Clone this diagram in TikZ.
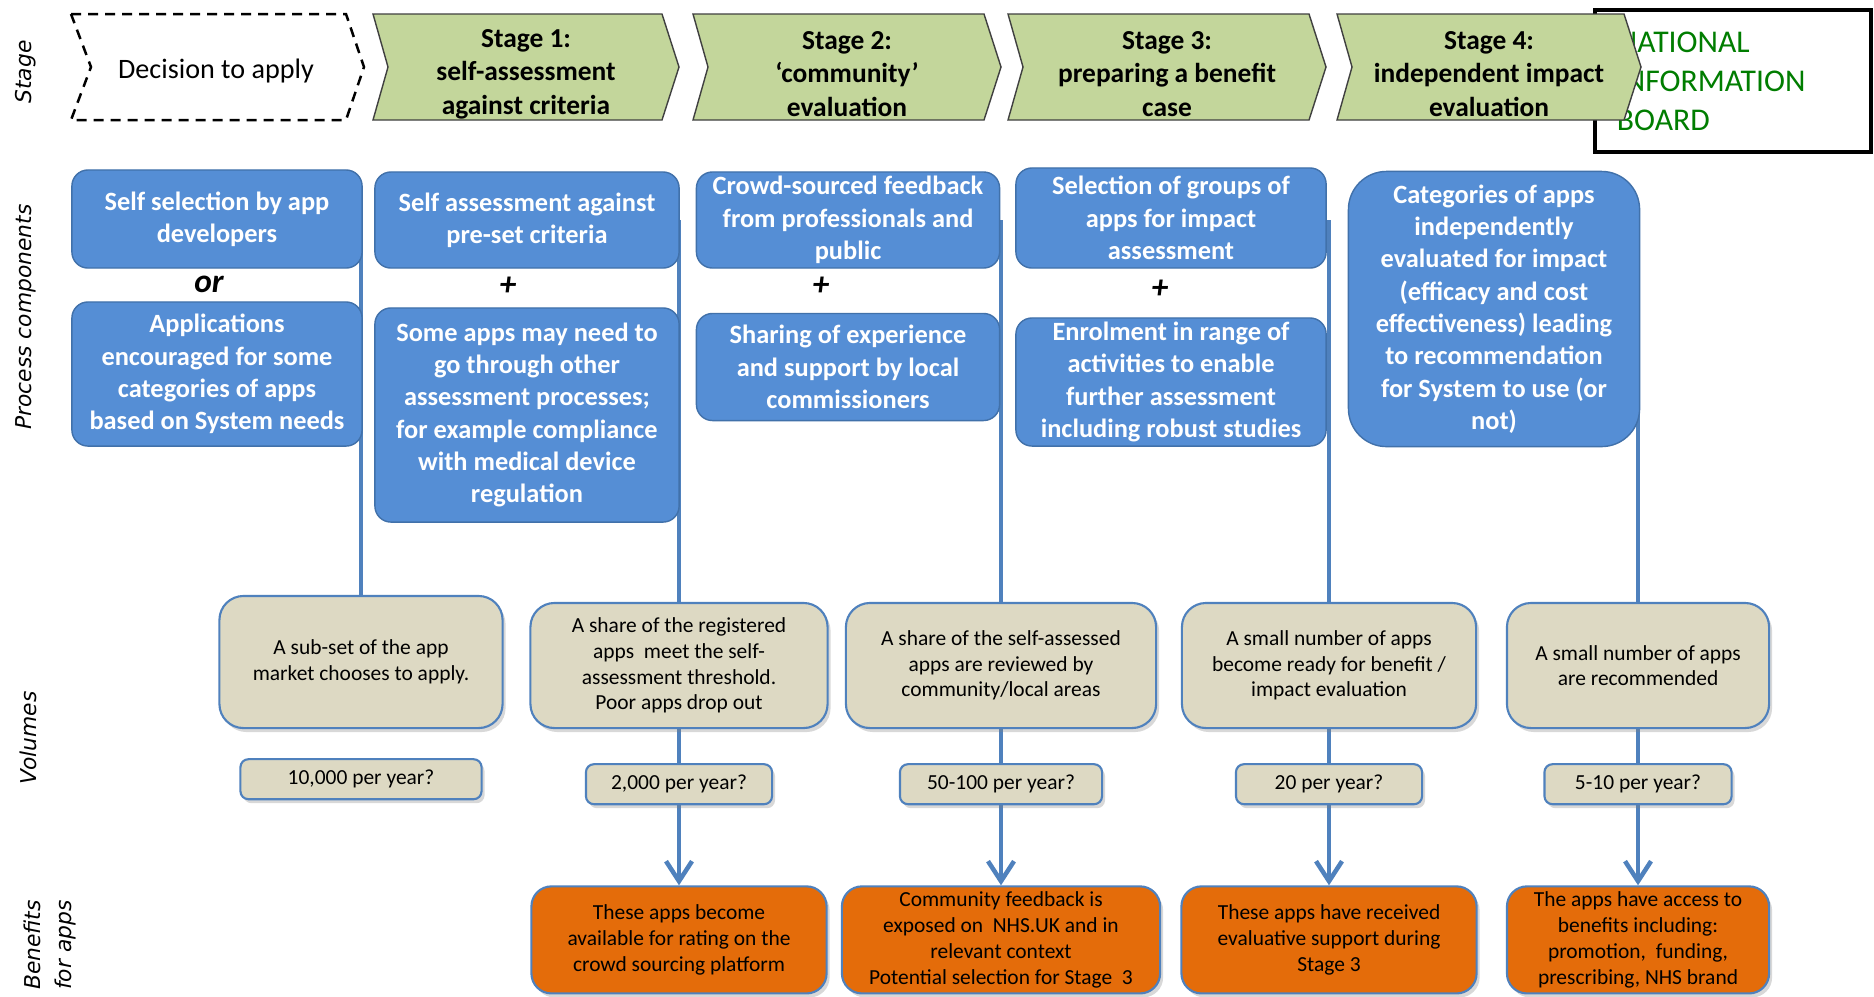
\documentclass[tikz,border=0pt]{standalone}
\usepackage{fontspec}
\setmainfont{Carlito}
\newfontfamily\sidefont{DejaVu Sans}
\usepackage{tikz}
\usetikzlibrary{positioning, arrows.meta, shadows, backgrounds}
\definecolor{appblue}{RGB}{85,142,213}
\definecolor{appblueedge}{RGB}{65,113,170}
\definecolor{stagegreen}{RGB}{195,214,155}
\definecolor{volbeige}{RGB}{221,217,195}
\definecolor{benorange}{RGB}{228,108,10}
\definecolor{flowblue}{RGB}{79,129,189}
\definecolor{boardgreen}{RGB}{0,125,0}

\tikzset{
  stagebox/.style={draw=black!75, line width=0.4pt, fill=stagegreen},
  applybox/.style={draw=black, line width=0.025cm, dash pattern=on 0.1cm off 0.07cm},
  stagetext/.style={align=center, inner sep=0pt, font=\fontsize{7.8pt}{9.5pt}\selectfont\bfseries},
  compbox/.style={draw=appblueedge, line width=0.4pt, fill=appblue, rounded corners=0.16cm,
    text=white, align=center, inner sep=0pt, font=\fontsize{7.5pt}{9.2pt}\selectfont\bfseries},
  joiner/.style={font=\fontsize{9.5pt}{10pt}\selectfont\bfseries\itshape},
  shadowed/.style={drop shadow={shadow xshift=0.03cm, shadow yshift=-0.04cm, opacity=0.3}},
  volbox/.style={draw=flowblue, line width=0.6pt, fill=volbeige, rounded corners=0.24cm, shadowed,
    align=center, inner sep=0pt, font=\fontsize{6.1pt}{7.3pt}\selectfont},
  countbox/.style={volbox, rounded corners=0.08cm, minimum height=0.4cm},
  benefitbox/.style={volbox, fill=benorange, rounded corners=0.2cm, minimum height=1.07cm,
    font=\fontsize{6.1pt}{7.4pt}\selectfont},
  flowline/.style={draw=flowblue, line width=0.045cm},
  sidelabel/.style={rotate=90, align=left, inner sep=0pt, font=\fontsize{6.2pt}{9pt}\selectfont\sidefont\itshape},
}

\begin{document}
\begin{tikzpicture}[x=0.01cm, y=-0.01cm]
  \useasboundingbox (0,0) rectangle (1874,996);
  \begin{scope}[on background layer]
    \fill[white] (0,0) rectangle (1874,996);
  \end{scope}

  % row labels
  \node[sidelabel] (lstage) at (26,72) {Stage};
  \node[sidelabel] (lproc) at (26,317) {Process components};
  \node[sidelabel] (lvol) at (28,738) {Volumes};
  \node[sidelabel] (lben) at (50,945) {Benefits\\for apps};

  % stage row
  \draw[applybox] (71,14) -- (346,14) -- (364,67) -- (346,120) -- (71,120) -- (91,67) -- cycle;
  \node[stagetext, font=\fontsize{8pt}{9.5pt}\selectfont] (apply) at (216,71) {Decision to apply};
  \node[draw, line width=0.04cm, minimum width=2.76cm, minimum height=1.42cm, text width=2.32cm,
        inner xsep=0.22cm, align=left, text=boardgreen, font=\fontsize{9pt}{11.1pt}\selectfont]
        (board) at (1733,81) {NATIONAL\\INFORMATION\\BOARD};
  \foreach \xl/\xr in {373/679, 693/1001, 1008/1326, 1337/1641}
    \draw[stagebox] (\xl,14) -- (\xr-17,14) -- (\xr,67) -- (\xr-17,120) -- (\xl,120) -- (\xl+15,67) -- cycle;
  \node[stagetext] (stage1) at (526,74) {Stage 1:\\self-assessment\\against criteria};
  \node[stagetext] (stage2) at (847,74) {Stage 2:\\‘community’\\evaluation};
  \node[stagetext] (stage3) at (1167,74) {Stage 3:\\preparing a benefit\\case};
  \node[stagetext] (stage4) at (1489,74) {Stage 4:\\independent impact\\evaluation};

  % process components
  \node[compbox, minimum width=2.9cm, minimum height=0.98cm] (select) at (217,219) {Self selection by app\\developers};
  \node[joiner] (or1) at (209,284) {or};
  \node[compbox, minimum width=2.9cm, minimum height=1.44cm] (encourage) at (217,374) {Applications\\encouraged for some\\categories of apps\\based on System needs};
  \node[compbox, minimum width=3.04cm, minimum height=0.96cm] (selfassess) at (527,220) {Self assessment against\\pre-set criteria};
  \node[joiner] (plus1) at (508,286) {+};
  \node[compbox, minimum width=3.04cm, minimum height=2.14cm] (other) at (527,415) {Some apps may need to\\go through other\\assessment processes;\\for example compliance\\with medical device\\regulation};
  \node[compbox, minimum width=3.03cm, minimum height=0.96cm] (crowd) at (848,220) {Crowd-sourced feedback\\from professionals and\\public};
  \node[joiner] (plus2) at (821,286) {+};
  \node[compbox, minimum width=3.03cm, minimum height=1.07cm] (sharing) at (848,367) {Sharing of experience\\and support by local\\commissioners};
  \node[compbox, minimum width=3.1cm, minimum height=1cm] (groups) at (1171,218) {Selection of groups of\\apps for impact\\assessment};
  \node[joiner] (plus3) at (1160,289) {+};
  \node[compbox, minimum width=3.1cm, minimum height=1.28cm] (enrol) at (1171,382) {Enrolment in range of\\activities to enable\\further assessment\\including robust studies};
  \node[compbox, rounded corners=0.38cm, minimum width=2.91cm, minimum height=2.75cm] (categories) at (1494,309) {Categories of apps\\independently\\evaluated for impact\\(efficacy and cost\\effectiveness) leading\\to recommendation\\for System to use (or\\not)};

  % volumes
  \node[volbox, minimum width=2.83cm, minimum height=1.32cm] (vol1) at (361,662) {A sub-set of the app\\market chooses to apply.};
  \node[volbox, minimum width=2.97cm, minimum height=1.25cm] (vol2) at (679,665.5) {A share of the registered\\apps\ \ meet the self-\\assessment threshold.\\Poor apps drop out};
  \node[volbox, minimum width=3.1cm, minimum height=1.25cm] (vol3) at (1001,665.5) {A share of the self-assessed\\apps are reviewed by\\community/local areas};
  \node[volbox, minimum width=2.94cm, minimum height=1.25cm] (vol4) at (1329,665.5) {A small number of apps\\become ready for benefit /\\impact evaluation};
  \node[volbox, minimum width=2.62cm, minimum height=1.25cm] (vol5) at (1638,665.5) {A small number of apps\\are recommended};
  \node[countbox, minimum width=2.41cm, below=0.29cm of vol1] (num1) {10,000 per year?};
  \node[countbox, minimum width=1.86cm, below=0.34cm of vol2] (num2) {2,000 per year?};
  \node[countbox, minimum width=2.02cm, below=0.34cm of vol3] (num3) {50-100 per year?};
  \node[countbox, minimum width=1.86cm, below=0.34cm of vol4] (num4) {20 per year?};
  \node[countbox, minimum width=1.87cm, below=0.34cm of vol5] (num5) {5-10 per year?};

  % benefits
  \node[benefitbox, minimum width=2.95cm, below=0.8cm of num2] (ben2) {These apps become\\available for rating on the\\crowd sourcing platform};
  \node[benefitbox, minimum width=3.18cm, below=0.8cm of num3] (ben3) {Community feedback is\\exposed on\ \ NHS.UK and in\\relevant context\\Potential selection for Stage\ \ 3};
  \node[benefitbox, minimum width=2.95cm, below=0.8cm of num4] (ben4) {These apps have received\\evaluative support during\\Stage 3};
  \node[benefitbox, minimum width=2.62cm, below=0.8cm of num5] (ben5) {The apps have access to\\benefits including:\\promotion,\ \ funding,\\prescribing, NHS brand};

  % flow lines behind the boxes
  \begin{scope}[on background layer]
    \coordinate (top1) at (361,220);
    \coordinate (top2) at (679,220);
    \coordinate (top3) at (1001,220);
    \coordinate (top4) at (1329,220);
    \coordinate (top5) at (1638,308);
    \draw[flowline] (top1) -- (vol1.north);
    \foreach \i in {2,...,5}
      \draw[flowline, -{Straight Barb[length=0.2cm, width=0.26cm]}] (top\i) -- (ben\i.north);
  \end{scope}
\end{tikzpicture}
\end{document}
